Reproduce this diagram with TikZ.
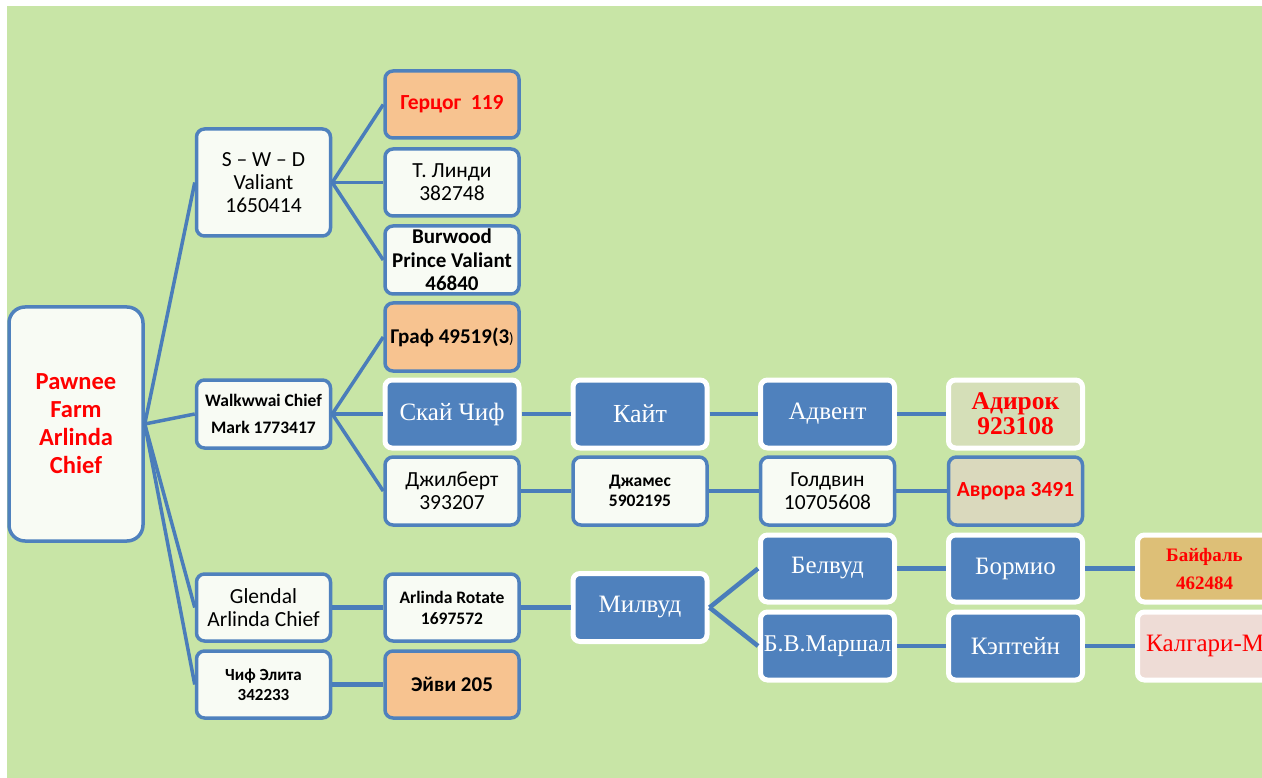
\documentclass[tikz,border=0pt]{standalone}
\usepackage{fontspec}
\setmainfont{Carlito}
\newfontfamily\serifcyr{Liberation Serif}
\newcommand\fsz[2]{\fontsize{#1}{#2}\selectfont}
\definecolor{bggreen}{HTML}{C8E5A6}
\definecolor{nodeblue}{HTML}{4F81BD}
\definecolor{lineblue}{HTML}{4A7DBA}
\definecolor{nodewhite}{HTML}{F8FBF4}
\definecolor{orangefill}{HTML}{F7C390}
\definecolor{adirfill}{HTML}{D5DFB8}
\definecolor{avrfill}{HTML}{DAD9BD}
\definecolor{bayffill}{HTML}{DDBF77}
\definecolor{kalgfill}{HTML}{EEDCD6}
\definecolor{txtred}{HTML}{FF0000}
\tikzset{
 wbox/.style={draw=nodeblue, line width=3.5pt, fill=nodewhite, rounded corners=8pt, minimum width=134pt, minimum height=68pt, inner sep=0pt, align=center, font=\fsz{21.5}{23}},
 obox/.style={wbox, fill=orangefill},
 bbox/.style={draw=white, line width=5pt, fill=nodeblue, rounded corners=7pt, minimum width=134pt, minimum height=68pt, inner sep=0pt, align=center, text=white, font=\serifcyr\fsz{25}{28}},
 conn/.style={draw=lineblue, line width=4.5pt},
 thin/.style={draw=lineblue, line width=3.5pt},
}
\begin{document}
\begin{tikzpicture}[x=1pt,y=-1pt]
\useasboundingbox (0,0) rectangle (1262,778);
\clip (0,0) rectangle (1262,778);
\fill[bggreen] (7,6) rectangle (1262,778);
% root
\node[wbox, minimum height=234pt, rounded corners=16pt, text=txtred, font=\bfseries\fsz{24.5}{28}] (root) at (76,424) {Pawnee\\Farm\\Arlinda\\Chief};
% level 1
\node[wbox, minimum height=107pt] (sw) at (263.5,182.5) {S – W – D\\Valiant\\1650414};
\node[wbox, font=\bfseries\fsz{17.5}{27}] (walk) at (263.5,414) {Walkwwai Chief\\Mark 1773417};
\node[wbox, minimum height=67pt] (glen) at (263.5,607.5) {Glendal\\Arlinda Chief};
\node[wbox, minimum height=67pt, font=\bfseries\fsz{17}{20}] (chif) at (263.5,684.5) {Чиф Элита\\342233};
% level 2
\node[obox, minimum height=67pt, text=txtred, font=\bfseries\fsz{21.5}{23}] (gerc) at (452,104.5) {Герцог\ \ 119};
\node[wbox, minimum height=67pt] (lindi) at (452,182.5) {Т. Линди\\382748};
\node[wbox, font=\bfseries\fsz{21}{23.5}] (burw) at (452,260) {Burwood\\Prince Valiant\\46840};
\node[obox, font=\bfseries\fsz{21}{22}] (graf) at (452,337) {Граф 49519(3{\mdseries\fsz{15}{15})}};
\node[bbox] (sky) at (452,414) {Скай Чиф};
\node[wbox] (jilb) at (452,491) {Джилберт\\393207};
\node[wbox, minimum height=67pt, font=\bfseries\fsz{17.5}{21}] (arot) at (452,607.5) {Arlinda Rotate\\1697572};
\node[obox, minimum height=67pt, font=\bfseries\fsz{21}{22}] (eyvi) at (452,684.5) {Эйви 205};
% level 3
\node[bbox, font=\serifcyr\fsz{26}{28}] (kait) at (640,414) {Кайт};
\node[wbox, font=\bfseries\fsz{17.5}{20}] (jam) at (640,491) {Джамес\\5902195};
\node[bbox] (milv) at (640,607.5) {Милвуд};
% level 4
\node[bbox] (advent) at (827.5,414) {Адвент};
\node[wbox, font=\fsz{21.5}{23}] (goldv) at (827.5,491) {Голдвин\\10705608};
\node[bbox, minimum height=67pt] (belv) at (827.5,568.5) {Белвуд};
\node[bbox, font=\serifcyr\fsz{24}{28}] (marsh) at (827.5,646) {Б.В.Маршал};
% level 5
\node[bbox, fill=adirfill, text=txtred, font=\serifcyr\bfseries\fsz{25.5}{25}] (adir) at (1015.5,414) {Адирок\\923108};
\node[wbox, fill=avrfill, text=txtred, font=\bfseries\fsz{21.5}{23}] (avr) at (1015.5,491) {Аврора 3491};
\node[bbox, minimum height=67pt] (borm) at (1015.5,568.5) {Бормио};
\node[bbox] (kapt) at (1015.5,646) {Кэптейн};
% level 6
\node[bbox, minimum height=67pt, fill=bayffill, text=txtred, font=\serifcyr\bfseries\fsz{19}{28}] (bayf) at (1204.5,568.5) {Байфаль\\462484};
\node[bbox, fill=kalgfill] (kalg) at (1204.5,646) {};
\node[anchor=west, inner sep=0pt, text=txtred, font=\serifcyr\fsz{25}{28}] (kalgtxt) at (1146,646) {Калгари-М};
% connectors
\draw[thin] (root.east) -- (sw.west);
\draw[thin] (root.east) -- (walk.west);
\draw[thin] (root.east) -- (glen.west);
\draw[thin] (root.east) -- (chif.west);
\draw[thin] (sw.east) -- (gerc.west);
\draw[thin] (sw.east) -- (lindi.west);
\draw[thin] (sw.east) -- (burw.west);
\draw[thin] (walk.east) -- (graf.west);
\draw[thin] (walk.east) -- (sky.west);
\draw[thin] (walk.east) -- (jilb.west);
\draw[conn] (glen.east) -- (arot.west);
\draw[conn] (chif.east) -- (eyvi.west);
\draw[conn] (sky.east) -- (kait.west);
\draw[conn] (kait.east) -- (advent.west);
\draw[conn] (advent.east) -- (adir.west);
\draw[conn] (jilb.east) -- (jam.west);
\draw[conn] (jam.east) -- (goldv.west);
\draw[conn] (goldv.east) -- (avr.west);
\draw[conn] (arot.east) -- (milv.west);
\draw[conn] (milv.east) -- (belv.west);
\draw[conn] (milv.east) -- (marsh.west);
\draw[conn] (belv.east) -- (borm.west);
\draw[conn] (borm.east) -- (bayf.west);
\draw[conn] (marsh.east) -- (kapt.west);
\draw[conn] (kapt.east) -- (kalg.west);
\end{tikzpicture}
\end{document}
